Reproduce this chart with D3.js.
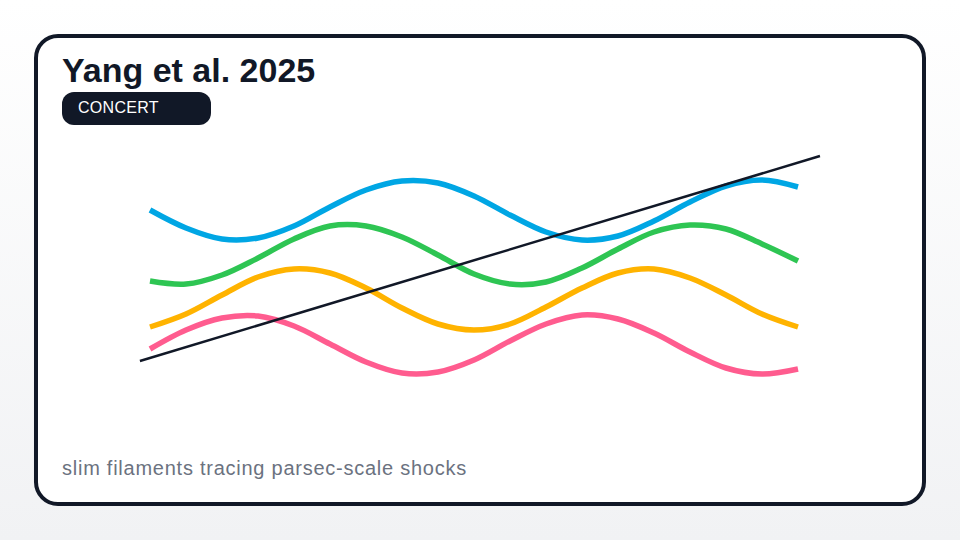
<!DOCTYPE html>
<html>
<head>
<meta charset="utf-8">
<script src="https://cdn.jsdelivr.net/npm/d3@7"></script>
<style>
  html, body { margin: 0; padding: 0; }
  body { width: 960px; height: 540px; overflow: hidden; font-family: "Liberation Sans", Arial, sans-serif; }
</style>
</head>
<body>
<div id="chart"></div>
<script>
// sample positions along the curves (index steps)
const steps = d3.range(0, 19);

// series values (height above the plot floor)
const blueVals   = [190, 172, 161, 162, 174, 193, 210, 219, 217, 204, 185, 168, 160, 164, 179, 198, 214, 220, 213];
const greenVals  = [119, 116, 125, 142, 161, 174, 174, 163, 145, 126, 116, 118, 132, 151, 168, 175, 171, 156, 139];
const orangeVals = [73, 86, 105, 123, 131, 127, 112, 92, 76, 70, 76, 93, 112, 127, 131, 122, 105, 86, 73];
const pinkVals   = [51, 70, 82, 84, 74, 56, 38, 27, 28, 40, 59, 76, 85, 81, 67, 48, 32, 26, 31];

// straight trend line, two ends
const trendX = [-0.28, 18.61];
const trendVals = [39, 244];

const seriesNames = ["blue", "green", "orange", "pink"];
const seriesColors = ["#00a6e4", "#2ec553", "#ffb300", "#ff5c8f"];

class WaveChart {
    constructor(parentElement) {
        this.parentElement = parentElement;
        this.initVis();
    }

    initVis() {
        let vis = this;
        vis.width = 960;
        vis.height = 540;

        vis.svg = d3.select("#" + vis.parentElement).append("svg")
            .attr("width", vis.width)
            .attr("height", vis.height);

        // soft page background
        let grad = vis.svg.append("defs").append("linearGradient")
            .attr("id", "bg").attr("x1", 0).attr("y1", 0).attr("x2", 0).attr("y2", 1);
        grad.append("stop").attr("offset", "0%").attr("stop-color", "#ffffff");
        grad.append("stop").attr("offset", "100%").attr("stop-color", "#f1f2f4");
        vis.svg.append("rect").attr("width", vis.width).attr("height", vis.height).attr("fill", "url(#bg)");

        // card
        vis.svg.append("rect")
            .attr("x", 36).attr("y", 36)
            .attr("width", 888).attr("height", 468)
            .attr("rx", 22).attr("ry", 22)
            .attr("fill", "#ffffff")
            .attr("stroke", "#111827")
            .attr("stroke-width", 4);

        // title
        vis.svg.append("text")
            .attr("x", 62).attr("y", 82)
            .attr("font-size", 34)
            .attr("font-weight", "bold")
            .attr("fill", "#111827")
            .text("Yang et al. 2025");

        // tag pill
        vis.svg.append("rect")
            .attr("x", 62).attr("y", 92)
            .attr("width", 149).attr("height", 33)
            .attr("rx", 12).attr("fill", "#111827");
        vis.svg.append("text")
            .attr("x", 78).attr("y", 113)
            .attr("font-size", 16)
            .attr("letter-spacing", 0.3)
            .attr("fill", "#ffffff")
            .text("CONCERT");

        // footnote
        vis.svg.append("text")
            .attr("x", 62).attr("y", 475)
            .attr("font-size", 20)
            .attr("letter-spacing", 0.75)
            .attr("fill", "#6b7280")
            .text("slim filaments tracing parsec-scale shocks");

        vis.x = d3.scaleLinear().domain([0, 18]).range([150, 798]);
        vis.y = d3.scaleLinear().domain([0, 260]).range([400, 140]);

        vis.updateVis();
    }

    updateVis() {
        let vis = this;

        let allVals = [blueVals, greenVals, orangeVals, pinkVals];
        let data = seriesNames.map((name, i) => ({
            name: name,
            color: seriesColors[i],
            values: steps.map((s, j) => ({x: s, y: allVals[i][j]}))
        }));

        let line = d3.line()
            .x(d => vis.x(d.x))
            .y(d => vis.y(d.y))
            .curve(d3.curveCatmullRom.alpha(0.5));

        vis.svg.append("g").attr("class", "waves")
            .selectAll("path")
            .data(data)
            .enter()
            .append("path")
            .attr("d", d => line(d.values))
            .attr("fill", "none")
            .attr("stroke", d => d.color)
            .attr("stroke-width", 5.5)
            .attr("stroke-linejoin", "round");

        // trend on top
        let trend = trendX.map((x, i) => ({x: x, y: trendVals[i]}));
        vis.svg.append("path")
            .attr("d", d3.line().x(d => vis.x(d.x)).y(d => vis.y(d.y))(trend))
            .attr("fill", "none")
            .attr("stroke", "#111827")
            .attr("stroke-width", 2.5);
    }
}

new WaveChart("chart");
</script>
</body>
</html>
